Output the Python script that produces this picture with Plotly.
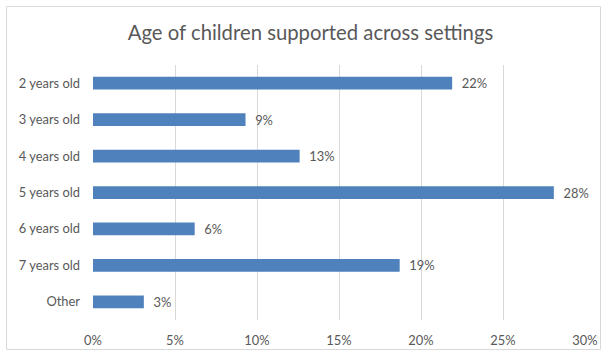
import plotly.graph_objects as go

categories = ["2 years old", "3 years old", "4 years old", "5 years old", "6 years old", "7 years old", "Other"]
values = [0.219, 0.093, 0.126, 0.281, 0.062, 0.187, 0.031]
x_ticks = [0, 0.05, 0.10, 0.15, 0.20, 0.25, 0.30]
x_tick_labels = ["0%", "5%", "10%", "15%", "20%", "25%", "30%"]
title_text = "Age of children supported across settings"

W, H = 607, 356
L, R, T, B = 93, 22, 65, 36
pw, ph = W - L - R, H - T - B

def px_x(p):
    return (p - L) / pw

def px_y(p):
    return (H - B - p) / ph

txt = "#595959"
font_family = "Lato, sans-serif"
tick_size = 12.9

fig = go.Figure(go.Bar(
    y=categories, x=values, orientation="h",
    marker=dict(color="#4F81BD", line=dict(width=0)),
    text=[f"\u00a0\u00a0{round(v*100)}%" for v in values],
    textposition="outside", constraintext="none",
    textfont=dict(color=txt, size=tick_size, family=font_family),
    cliponaxis=False, hoverinfo="skip",
))

fig.update_layout(
    width=W, height=H,
    margin=dict(l=L, r=R, t=T, b=B, autoexpand=False),
    paper_bgcolor="white", plot_bgcolor="white",
    bargap=0.65,
    showlegend=False,
    font=dict(family=font_family, color=txt, size=tick_size),
    title=dict(text=title_text, xref="paper", xanchor="center",
               y=1 - 33 / H, yanchor="middle",
               font=dict(size=20.3, color=txt, family=font_family)),
    shapes=[dict(type="rect", xref="paper", yref="paper",
                 x0=px_x(6.5), x1=px_x(600.5), y0=px_y(349.5), y1=px_y(6.5),
                 line=dict(color="#D9D9D9", width=1), fillcolor="rgba(0,0,0,0)", layer="below")],
)
fig.update_layout(title_x=px_x(310.5))

fig.update_xaxes(range=[0, 0.30], tickvals=x_ticks, ticktext=x_tick_labels,
                 showgrid=True, gridcolor="#D9D9D9", gridwidth=1,
                 zeroline=False, showline=False, ticks="", automargin=False,
                 ticklabelstandoff=11,
                 tickfont=dict(size=tick_size, color=txt))
fig.update_yaxes(autorange="reversed", showgrid=False, zeroline=False,
                 showline=False, ticks="", ticklabelstandoff=12, automargin=False,
                 tickfont=dict(size=tick_size, color=txt))

fig.write_html("out.html")
